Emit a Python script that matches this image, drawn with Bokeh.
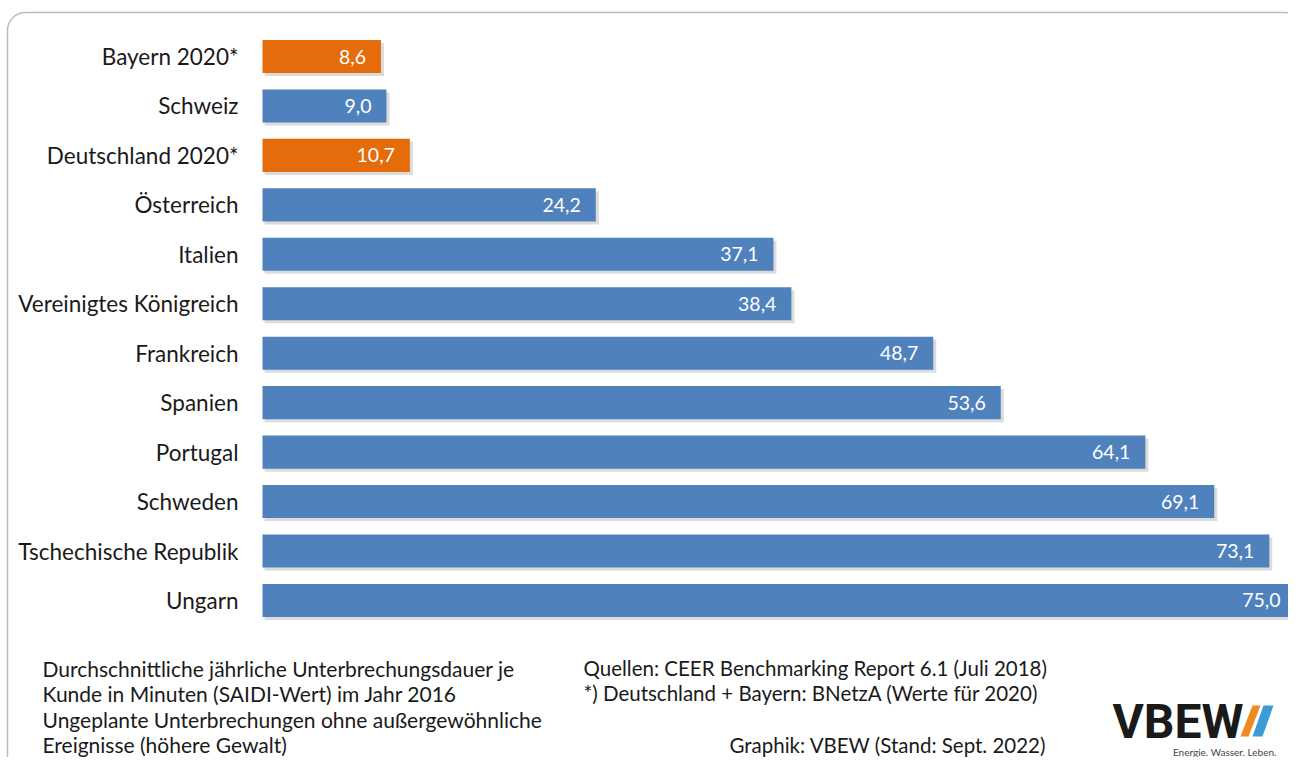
from bokeh.plotting import figure
from bokeh.models import Range1d, ColumnDataSource, Label, BoxAnnotation, PolyAnnotation
from bokeh.core.properties import value
from bokeh.embed import file_html
from bokeh.resources import INLINE

# ---- data ----
categories = ["Bayern 2020*", "Schweiz", "Deutschland 2020*", "Österreich", "Italien",
              "Vereinigtes Königreich", "Frankreich", "Spanien", "Portugal", "Schweden",
              "Tschechische Republik", "Ungarn"]
values = [8.6, 9.0, 10.7, 24.2, 37.1, 38.4, 48.7, 53.6, 64.1, 69.1, 73.1, 75.0]
highlight = [True, False, True, False, False, False, False, False, False, False, False, False]

note_lines = ["Durchschnittliche jährliche Unterbrechungsdauer je",
              "Kunde in Minuten (SAIDI-Wert) im Jahr 2016",
              "Ungeplante Unterbrechungen ohne außergewöhnliche",
              "Ereignisse  (höhere Gewalt)"]
source_lines = ["Quellen: CEER Benchmarking Report 6.1 (Juli 2018)",
                "*) Deutschland + Bayern: BNetzA (Werte für 2020)"]
credit = "Graphik: VBEW (Stand: Sept. 2022)"

# ---- layout ----
W, H = 1288, 757
FONT = "Lato"
ORANGE = "#E46C0A"
BLUE = "#4F81BD"

x0_px, x75_px = 262, 1295
px_per_unit = (x75_px - x0_px) / 75.0
row_px = 49.45
top_center_px = 56

n = len(categories)
ypos = list(range(n))
colors = [ORANGE if h else BLUE for h in highlight]
labels = [f"{v:.1f}".replace(".", ",") for v in values]

src = ColumnDataSource(dict(
    y=ypos, v=values, cat=categories, color=colors, lab=labels,
    sy=[y + 3 / row_px for y in ypos], sv=[v + 3 / px_per_unit for v in values],
))

p = figure(width=W, height=H, output_backend="svg", toolbar_location=None,
           x_range=Range1d(-x0_px / px_per_unit, (W - x0_px) / px_per_unit),
           y_range=Range1d((H - top_center_px) / row_px, -top_center_px / row_px),
           x_axis_type=None, y_axis_type=None, min_border=0,
           outline_line_color=None, background_fill_color="white", border_fill_color="white")
p.grid.visible = False

# shadow
p.hbar(y="sy", left=0.15, right="sv", height=0.67, source=src,
       fill_color="#c4c4c4", fill_alpha=0.6, line_color=None)
# bars
p.hbar(y="y", left=0, right="v", height=0.67, source=src,
       fill_color="color", line_color=None)
# value labels
p.text(x="v", y="y", text="lab", source=src, x_offset=-15, text_align="right",
       text_baseline="middle", text_color="white", text_font=value(FONT), text_font_size="19.5px")
# category labels
p.text(x=0, y="y", text="cat", source=src, x_offset=-24, text_align="right",
       text_baseline="middle", text_color="#1a1a1a", text_font=value(FONT), text_font_size="22.5px")

# frame border
p.add_layout(BoxAnnotation(left=7, right=W + 14, top=H - 12, bottom=-30,
                           left_units="screen", right_units="screen",
                           top_units="screen", bottom_units="screen",
                           fill_color=None, line_color="#222222", line_width=1.5,
                           border_radius=18))

# bottom notes
def y_scr(fig_y):
    return H - fig_y

for i, t in enumerate(note_lines):
    p.add_layout(Label(x=42, y=y_scr(668 + 25.3 * i), x_units="screen", y_units="screen",
                       text=t, text_font=FONT, text_font_size="21px", text_color="#1a1a1a",
                       text_baseline="middle", text_align="left"))
for i, t in enumerate(source_lines):
    p.add_layout(Label(x=583, y=y_scr(667 + 25 * i), x_units="screen", y_units="screen",
                       text=t, text_font=FONT, text_font_size="20.5px", text_color="#1a1a1a",
                       text_baseline="middle", text_align="left"))
p.add_layout(Label(x=1046, y=y_scr(744), x_units="screen", y_units="screen",
                   text=credit, text_font=FONT, text_font_size="20.5px", text_color="#1a1a1a",
                   text_baseline="middle", text_align="right"))

# logo
p.add_layout(Label(x=1112, y=y_scr(721), x_units="screen", y_units="screen",
                   text="VBEW", text_font="Roboto", text_font_style="bold",
                   text_font_size="48px", text_color="#1a1a1a", text_baseline="middle"))
p.add_layout(PolyAnnotation(xs=[1240, 1248, 1260, 1252], ys=[y_scr(736), y_scr(736), y_scr(705), y_scr(705)],
                            xs_units="screen", ys_units="screen",
                            fill_color="#EE8A1F", fill_alpha=1.0, line_color=None))
p.add_layout(PolyAnnotation(xs=[1252, 1262, 1273, 1263], ys=[y_scr(736), y_scr(736), y_scr(705), y_scr(705)],
                            xs_units="screen", ys_units="screen",
                            fill_color="#3D9BD8", fill_alpha=1.0, line_color=None))
p.add_layout(Label(x=1276, y=y_scr(751), x_units="screen", y_units="screen",
                   text="Energie. Wasser. Leben.", text_font=FONT, text_font_size="10px",
                   text_color="#444444", text_baseline="middle", text_align="right"))

open("out.html", "w").write(file_html(p, INLINE))
